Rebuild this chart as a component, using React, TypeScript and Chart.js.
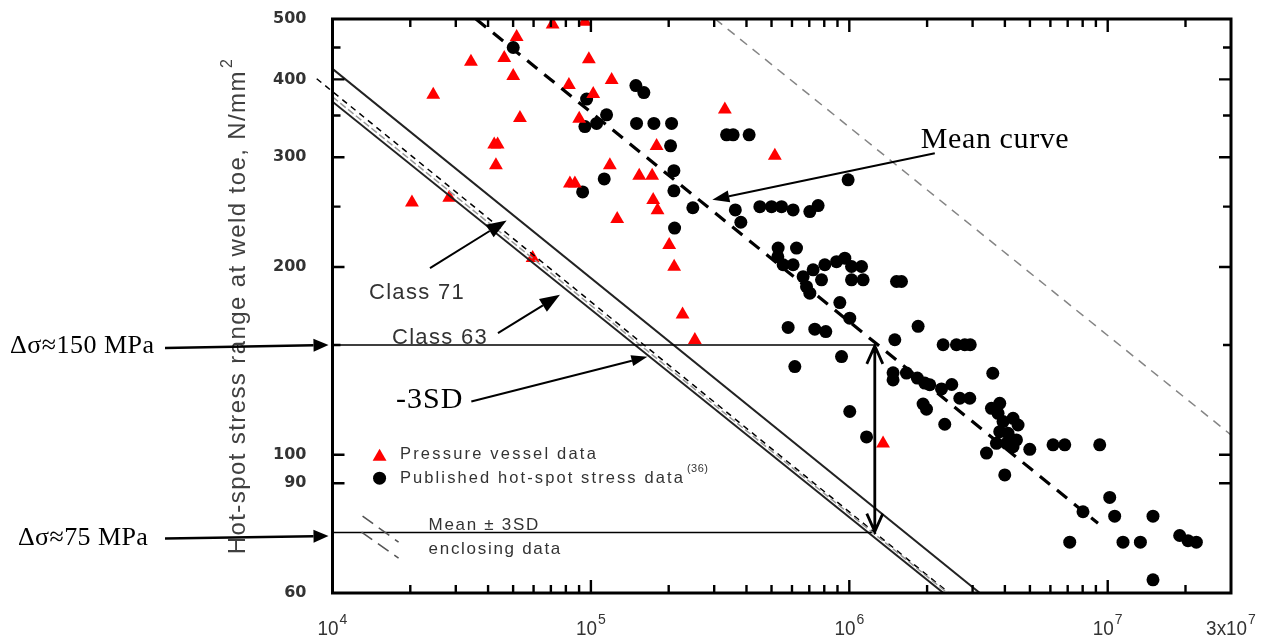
import React, { useEffect, useRef } from 'react';
import { Chart, registerables } from 'chart.js';

Chart.register(...registerables);

// Axis ranges (cycles, N/mm²)
const X_MIN = 1e4;
const X_MAX = 3e7;
const Y_MIN = 60;
const Y_MAX = 500;

// Axis tick labels
const xLabelValues = [1e4, 1e5, 1e6, 1e7, 3e7];
const xLabelBase = ['10', '10', '10', '10', '3x10'];
const xLabelExp = ['4', '5', '6', '7', '7'];
const yLabelValues = [60, 90, 100, 200, 300, 400, 500];
const yMajorTicks = [400, 300, 200, 100, 90];
const yMinorTicks = [450, 350, 250, 150];

// Pressure vessel data: cycles to failure and hot-spot stress range
const vesselCycles = [
  71100, 94800, 51600, 34340, 46200, 98200, 50050, 120300, 24540, 82200,
  102100, 53140, 90100, 42250, 43560, 42900, 179600, 118400, 82950, 86700,
  153800, 172600, 174200, 181100, 20300, 28300, 126400, 200900, 210000, 59500,
  226300, 329900, 515000, 252500, 1351000,
];
const vesselStress = [
  490, 495, 468, 427, 433, 431, 405, 399, 378, 392,
  379, 347, 346, 314.6, 314.6, 291.4, 312.7, 291.4, 272.3, 272.3,
  280.2, 280.2, 256.1, 246.8, 253.9, 258.4, 238.8, 216.9, 200.2, 206.9,
  167.8, 358, 301.6, 152.7, 104.2,
];

// Published hot-spot stress data
const publishedCycles = [
  50050, 149300, 160300, 96250, 115000, 105200, 94800, 150200, 175300, 205200,
  203400, 335000, 355200, 409600, 209500, 112600, 92900, 209500, 248000, 210800,
  362200, 380400, 989500, 450600, 500100, 546700, 606100, 703400, 757300, 530400,
  624700, 528900, 554500, 606100, 662700, 683000, 703400, 724400, 803900, 892300,
  960800, 1020000, 1115000, 780700, 1020000, 1131000, 1523000, 1592000, 919000, 1004000,
  579800, 735400, 811000, 933200, 615400, 1004000, 1166000, 1500000, 1846000, 2307000,
  2598000, 2798000, 2938000, 1477000, 1477000, 1664000, 1833000, 1959000, 2048000, 2492000,
  2274000, 2677000, 2925000, 1930000, 1989000, 2341000, 3591000, 3549000, 3821000, 3763000,
  3935000, 4302000, 4498000, 3821000, 4115000, 4435000, 3710000, 4057000, 4302000, 3395000,
  4993000, 6144000, 6819000, 9313000, 3996000, 10180000, 8023000, 10640000, 14970000, 7129000,
  11460000, 13380000, 18990000, 20450000, 22030000, 14970000,
];
const publishedStress = [
  450, 391, 381, 372, 351, 340, 336, 340, 340, 340,
  313, 326, 326, 326, 285.5, 277, 264, 265, 249, 231,
  247, 236, 276, 250, 250, 250, 247, 245.5, 251, 214.5,
  214.5, 207.7, 201.7, 201.7, 193, 186, 181.6, 198, 201.7, 204,
  206.7, 200.4, 200.4, 190.8, 190.8, 190.8, 189.6, 189.6, 175.4, 165.6,
  160, 159, 157.6, 143.7, 138.5, 117.3, 106.8, 152.9, 160.7, 150.1,
  150.1, 150.1, 150.1, 135.3, 131.8, 135.2, 132.7, 130.3, 129.5, 129.6,
  127.5, 123.2, 123.2, 120.6, 118.3, 111.9, 135.1, 118.7, 120.9, 116.5,
  113, 114.4, 111.6, 108.9, 108.2, 105.6, 104.3, 104.3, 103, 100.6,
  102, 103.7, 103.7, 103.7, 92.8, 85.4, 81, 79.7, 79.7, 72.4,
  72.4, 72.4, 74.2, 72.8, 72.4, 63,
];

// S-N lines (end points: cycles, stress range)
const meanN = [35900, 9.17e6];
const meanS = [500, 77.6];
const upperBoundN = [302700, 3e7];
const upperBoundS = [500, 107.6];
const lowerBoundN = [1e4, 2.4e6];
const lowerBoundS = [375, 60];
const minus3sdN = [8687, 2.432e6];
const minus3sdS = [401, 60];
const class71N = [1e4, 3.2e6];
const class71S = [416, 60];
const class63N = [1e4, 2.315e6];
const class63S = [368.4, 60];

// Reference stress levels marked on the chart
const refHigh = 150;
const refLow = 75;
const refCycles = 1.255e6;
const refLowEnd = 1.222e6;

// Callout arrows [cycles, stress] from -> to
const meanArrow = [[2142000, 304.5], [295100, 256.4]];
const class71Arrow = [[23840, 199.2], [47200, 237.6]];
const class63Arrow = [[43680, 156.7], [75900, 180.5]];
const minus3sdArrow = [[34450, 121.7], [165400, 143.6]];

// Callout label anchors [cycles, stress]
const meanLabelAt = [1891000, 320];
const class71LabelAt = [13840, 181.8];
const class63LabelAt = [16990, 154];
const minus3sdLabelAt = [17610, 122.4];

// Legend anchors [cycles, stress]
const legendMarkerN = 15210;
const legendTextN = 18240;
const legendRowS = [100, 91.7];
const boundsLegendN = 23540;
const boundsLegendS = [77.1, 70.6];

const SANS = '"Liberation Sans", Arial, sans-serif';
const SERIF = '"Liberation Serif", "Times New Roman", serif';
const TEXT_GREY = '#333333';

function drawText(
  ctx: CanvasRenderingContext2D,
  s: string,
  x: number,
  y: number,
  font: string,
  color: string,
  align: 'left' | 'center' | 'right' = 'left',
  spacing = 0,
  sx = 1
): number {
  ctx.save();
  ctx.font = font;
  ctx.fillStyle = color;
  ctx.textBaseline = 'middle';
  ctx.textAlign = 'left';
  (ctx as any).letterSpacing = spacing + 'px';
  const w = ctx.measureText(s).width * sx;
  const x0 = align === 'center' ? x - w / 2 : align === 'right' ? x - w : x;
  ctx.translate(x0, y);
  ctx.scale(sx, 1);
  ctx.fillText(s, 0, 0);
  ctx.restore();
  return w;
}

function filledArrow(
  ctx: CanvasRenderingContext2D,
  x1: number,
  y1: number,
  x2: number,
  y2: number,
  headLen: number,
  headW: number,
  lw: number
) {
  const a = Math.atan2(y2 - y1, x2 - x1);
  const bx = x2 - headLen * Math.cos(a);
  const by = y2 - headLen * Math.sin(a);
  ctx.save();
  ctx.strokeStyle = '#000';
  ctx.fillStyle = '#000';
  ctx.lineWidth = lw;
  ctx.setLineDash([]);
  ctx.beginPath();
  ctx.moveTo(x1, y1);
  ctx.lineTo(bx, by);
  ctx.stroke();
  ctx.beginPath();
  ctx.moveTo(x2, y2);
  ctx.lineTo(bx + (headW / 2) * Math.sin(a), by - (headW / 2) * Math.cos(a));
  ctx.lineTo(bx - (headW / 2) * Math.sin(a), by + (headW / 2) * Math.cos(a));
  ctx.closePath();
  ctx.fill();
  ctx.restore();
}

function trianglePath(ctx: CanvasRenderingContext2D, x: number, y: number, r: number) {
  ctx.beginPath();
  ctx.moveTo(x, y - r);
  ctx.lineTo(x + r * Math.sin((2 * Math.PI) / 3), y + r / 2);
  ctx.lineTo(x - r * Math.sin((2 * Math.PI) / 3), y + r / 2);
  ctx.closePath();
}

const overlayPlugin = {
  id: 'snOverlay',
  afterDatasetsDraw(chart: any) {
    const ctx: CanvasRenderingContext2D = chart.ctx;
    const xs = chart.scales.x;
    const ys = chart.scales.y;
    const px = (n: number) => xs.getPixelForValue(n);
    const py = (s: number) => ys.getPixelForValue(s);
    const { left, right, top, bottom } = chart.chartArea;

    ctx.save();

    // reference lines at 150 and 75 N/mm²
    ctx.strokeStyle = '#000';
    ctx.lineWidth = 1.5;
    ctx.beginPath();
    ctx.moveTo(left, py(refHigh));
    ctx.lineTo(px(refCycles), py(refHigh));
    ctx.moveTo(left, py(refLow));
    ctx.lineTo(px(refLowEnd), py(refLow));
    ctx.stroke();

    // double-headed arrow between mean and -3SD
    const vx = px(refCycles);
    const vy1 = py(refHigh);
    const vy2 = py(refLow);
    ctx.lineWidth = 2.8;
    ctx.beginPath();
    ctx.moveTo(vx, vy1 + 1);
    ctx.lineTo(vx, vy2 - 1);
    ctx.moveTo(vx - 8, vy1 + 19);
    ctx.lineTo(vx, vy1 + 1);
    ctx.lineTo(vx + 8, vy1 + 19);
    ctx.moveTo(vx - 8, vy2 - 19);
    ctx.lineTo(vx, vy2 - 1);
    ctx.lineTo(vx + 8, vy2 - 19);
    ctx.stroke();

    // frame
    ctx.lineWidth = 3;
    ctx.strokeStyle = '#000';
    ctx.strokeRect(left, top, right - left, bottom - top);

    // inward tick marks
    ctx.lineWidth = 2.4;
    ctx.beginPath();
    for (let k = 4; k <= 7; k++) {
      for (let m = 1; m <= 9; m++) {
        const v = m * Math.pow(10, k);
        if (v <= X_MIN || v >= X_MAX) continue;
        const len = m === 1 ? 13 : 8;
        const x = px(v);
        ctx.moveTo(x, bottom);
        ctx.lineTo(x, bottom - len);
        ctx.moveTo(x, top);
        ctx.lineTo(x, top + len);
      }
    }
    const yTicks = [
      ...yMajorTicks.map((v) => [v, 12]),
      ...yMinorTicks.map((v) => [v, 8]),
    ];
    for (const [v, len] of yTicks) {
      const y = py(v);
      ctx.moveTo(left, y);
      ctx.lineTo(left + len, y);
      ctx.moveTo(right, y);
      ctx.lineTo(right - len, y);
    }
    ctx.stroke();

    // x tick labels with exponents
    xLabelValues.forEach((v, i) => {
      ctx.save();
      ctx.font = '21px ' + SANS;
      const wb = ctx.measureText(xLabelBase[i]).width * 0.9;
      ctx.font = '14px ' + SANS;
      const we = ctx.measureText(xLabelExp[i]).width;
      ctx.restore();
      const x0 = px(v) - (wb + we + 1) / 2;
      drawText(ctx, xLabelBase[i], x0, bottom + 36, '21px ' + SANS, TEXT_GREY, 'left', 0, 0.9);
      drawText(ctx, xLabelExp[i], x0 + wb + 1, bottom + 27, '14px ' + SANS, TEXT_GREY, 'left', 0, 1);
    });

    // y axis title
    ctx.save();
    ctx.translate(left - 94, (top + bottom) / 2);
    ctx.rotate(-Math.PI / 2);
    ctx.font = '24px ' + SANS;
    (ctx as any).letterSpacing = '1.4px';
    const titleMain = 'Hot-spot stress range at weld toe, N/mm';
    const wMain = ctx.measureText(titleMain).width;
    ctx.font = '16px ' + SANS;
    const wSup = ctx.measureText('2').width;
    const start = -(wMain + wSup + 2) / 2;
    ctx.fillStyle = '#404040';
    ctx.textBaseline = 'middle';
    ctx.font = '24px ' + SANS;
    ctx.fillText(titleMain, start, 0);
    ctx.font = '16px ' + SANS;
    ctx.fillText('2', start + wMain + 2, -11);
    ctx.restore();

    // legend
    const lx = px(legendMarkerN);
    const r1 = py(legendRowS[0]);
    const r2 = py(legendRowS[1]);
    ctx.fillStyle = '#ff0000';
    trianglePath(ctx, lx, r1 + 2, 8);
    ctx.fill();
    ctx.fillStyle = '#000';
    ctx.beginPath();
    ctx.arc(lx, r2, 6.5, 0, Math.PI * 2);
    ctx.fill();
    const tx = px(legendTextN);
    drawText(ctx, 'Pressure vessel data', tx, r1, '16.5px ' + SANS, TEXT_GREY, 'left', 2.2);
    const wPub = drawText(ctx, 'Published hot-spot stress data', tx, r2, '16.5px ' + SANS, TEXT_GREY, 'left', 2.1);
    drawText(ctx, '(36)', tx + wPub + 2, r2 - 9, '11px ' + SANS, TEXT_GREY, 'left', 0.5);

    // legend entry for the mean ± 3SD bounds
    const by = py(boundsLegendS[0]);
    ctx.save();
    ctx.strokeStyle = '#555';
    ctx.lineWidth = 1.6;
    ctx.setLineDash([13, 7]);
    ctx.beginPath();
    ctx.moveTo(lx - 17, by - 9);
    ctx.lineTo(lx + 19, by + 17);
    ctx.moveTo(lx - 18, by + 7);
    ctx.lineTo(lx + 19, by + 33);
    ctx.stroke();
    ctx.restore();
    const bx = px(boundsLegendN);
    drawText(ctx, 'Mean \u00b1 3SD', bx, by, '17px ' + SANS, TEXT_GREY, 'left', 1.7);
    drawText(ctx, 'enclosing data', bx, py(boundsLegendS[1]), '17px ' + SANS, TEXT_GREY, 'left', 1.7);

    // callouts
    const P = (p: number[]) => [px(p[0]), py(p[1])];
    const arrowFrom = (a: number[][], headLen: number, headW: number, lw: number) => {
      const [x1, y1] = P(a[0]);
      const [x2, y2] = P(a[1]);
      filledArrow(ctx, x1, y1, x2, y2, headLen, headW, lw);
    };
    arrowFrom(meanArrow, 17, 12, 2);
    arrowFrom(class71Arrow, 20, 15, 2);
    arrowFrom(class63Arrow, 20, 15, 2);
    arrowFrom(minus3sdArrow, 16, 11, 2);

    const [mlx, mly] = P(meanLabelAt);
    drawText(ctx, 'Mean curve', mlx, mly, '30px ' + SERIF, '#000', 'left', 0.6);
    const [c71x, c71y] = P(class71LabelAt);
    drawText(ctx, 'Class 71', c71x, c71y, '22px ' + SANS, TEXT_GREY, 'left', 1.3);
    const [c63x, c63y] = P(class63LabelAt);
    drawText(ctx, 'Class 63', c63x, c63y, '22px ' + SANS, TEXT_GREY, 'left', 1.3);
    const [sdx, sdy] = P(minus3sdLabelAt);
    drawText(ctx, '-3SD', sdx, sdy, '30px ' + SERIF, '#000', 'left', 1);

    // stress level labels outside the axis
    const hy = py(refHigh);
    const ly = py(refLow);
    drawText(ctx, '\u0394\u03c3\u2248150 MPa', 10, hy + 1, '26px ' + SERIF, '#000', 'left', 0.5);
    filledArrow(ctx, 165, hy + 3, left - 4, hy, 15, 13, 2.5);
    drawText(ctx, '\u0394\u03c3\u224875 MPa', 18, ly + 5.5, '26px ' + SERIF, '#000', 'left', 0.4);
    filledArrow(ctx, 165, ly + 6, left - 4, ly + 3.5, 15, 13, 2.5);

    ctx.restore();
  },
};

function lineSet(
  label: string,
  n: number[],
  s: number[],
  color: string,
  width: number,
  dash: number[],
  clip?: boolean
) {
  const ds: any = {
    label,
    data: n.map((v, i) => ({ x: v, y: s[i] })),
    showLine: true,
    borderColor: color,
    borderWidth: width,
    borderDash: dash,
    pointRadius: 0,
    fill: false,
    tension: 0,
  };
  if (clip === false) ds.clip = false;
  return ds;
}

export default function App() {
  const canvasRef = useRef<HTMLCanvasElement | null>(null);

  useEffect(() => {
    const canvas = canvasRef.current;
    if (!canvas) return;
    const chart = new Chart(canvas, {
      type: 'scatter',
      data: {
        datasets: [
          lineSet('Mean curve', meanN, meanS, '#000', 3.2, [13, 9]),
          lineSet('Mean + 3SD', upperBoundN, upperBoundS, '#858585', 1.5, [9, 7]),
          lineSet('Mean - 3SD', lowerBoundN, lowerBoundS, '#9a9a9a', 1.5, [7, 3]),
          lineSet('-3SD', minus3sdN, minus3sdS, '#000', 1.5, [6, 5], false),
          lineSet('Class 71', class71N, class71S, '#222', 2, []),
          lineSet('Class 63', class63N, class63S, '#222', 2, []),
          {
            label: 'Pressure vessel data',
            data: vesselCycles.map((n, i) => ({ x: n, y: vesselStress[i] })),
            pointStyle: 'triangle',
            pointRadius: 8,
            pointBackgroundColor: '#ff0000',
            pointBorderWidth: 0,
            borderWidth: 0,
            showLine: false,
          },
          {
            label: 'Published hot-spot stress data',
            data: publishedCycles.map((n, i) => ({ x: n, y: publishedStress[i] })),
            pointStyle: 'circle',
            pointRadius: 6.5,
            pointBackgroundColor: '#000',
            pointBorderWidth: 0,
            borderWidth: 0,
            showLine: false,
          },
        ] as any,
      },
      options: {
        responsive: false,
        animation: false,
        events: [],
        layout: { padding: { top: 19, right: 41, bottom: 0, left: 0 } },
        plugins: {
          legend: { display: false },
          tooltip: { enabled: false },
        },
        scales: {
          x: {
            type: 'logarithmic',
            min: X_MIN,
            max: X_MAX,
            grid: { display: false, drawTicks: false },
            border: { display: false },
            ticks: { display: false },
            afterFit: (s: any) => {
              s.height = 49;
              s.paddingLeft = 0;
              s.paddingRight = 0;
            },
          },
          y: {
            type: 'logarithmic',
            min: Y_MIN,
            max: Y_MAX,
            grid: { display: false, drawTicks: false },
            border: { display: false },
            ticks: {
              autoSkip: false,
              padding: 26,
              color: '#333',
              font: { family: '"DejaVu Sans"', size: 16, weight: 'bold' },
              callback: (v: any) => String(v),
            },
            afterBuildTicks: (s: any) => {
              s.ticks = yLabelValues.map((v) => ({ value: v }));
            },
            afterFit: (s: any) => {
              s.width = 332.5;
              s.paddingTop = 0;
              s.paddingBottom = 0;
            },
          },
        },
      } as any,
      plugins: [overlayPlugin],
    });
    return () => chart.destroy();
  }, []);

  return (
    <div style={{ position: 'fixed', left: 0, top: 0, width: 1272, height: 642, background: '#fff' }}>
      <canvas ref={canvasRef} width={1272} height={642} style={{ width: 1272, height: 642, display: 'block' }} />
    </div>
  );
}
